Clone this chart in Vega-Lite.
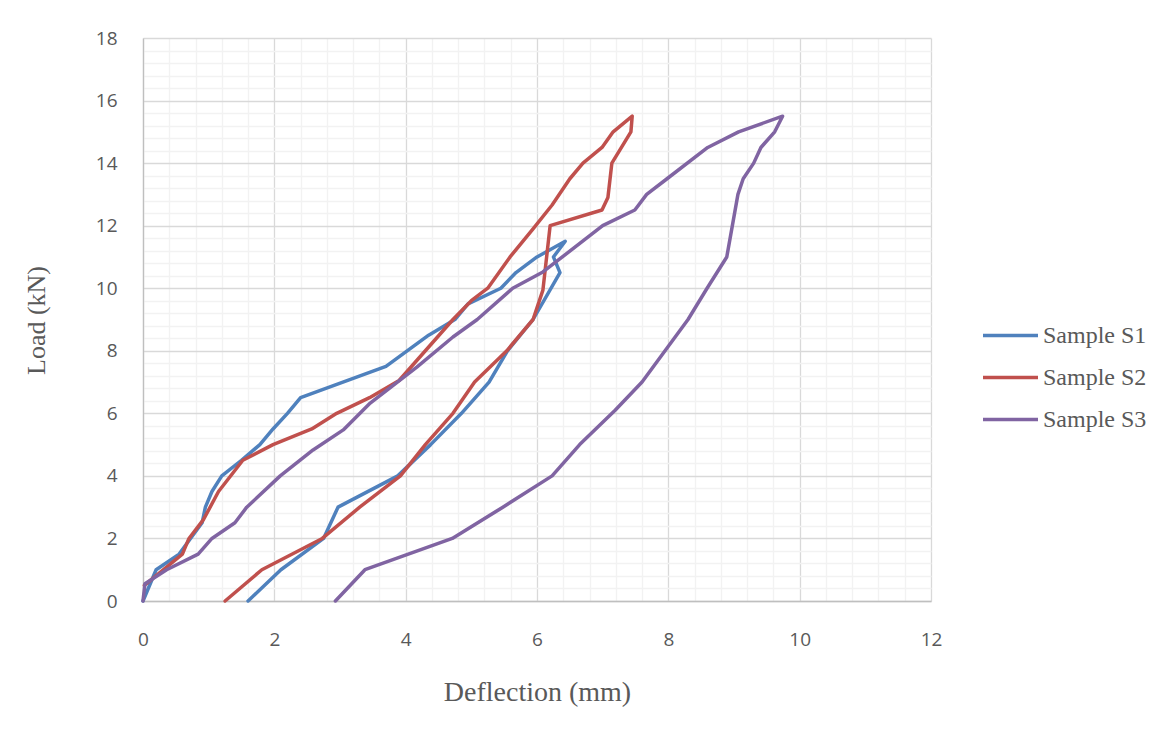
{
  "$schema": "https://vega.github.io/schema/vega-lite/v6.json",
  "autosize": {"type": "none"},
  "padding": {"left": 143, "top": 38, "right": 232, "bottom": 133},
  "width": 788,
  "height": 563,
  "background": "white",
  "config": {"view": {"stroke": null}},
  "data": {"values": [
    {"Sample":"Sample S1","i":0,"Deflection":0,"Load":0},
    {"Sample":"Sample S1","i":1,"Deflection":0.2,"Load":1},
    {"Sample":"Sample S1","i":2,"Deflection":0.55,"Load":1.5},
    {"Sample":"Sample S1","i":3,"Deflection":0.9,"Load":2.5},
    {"Sample":"Sample S1","i":4,"Deflection":0.95,"Load":3},
    {"Sample":"Sample S1","i":5,"Deflection":1.05,"Load":3.5},
    {"Sample":"Sample S1","i":6,"Deflection":1.2,"Load":4},
    {"Sample":"Sample S1","i":7,"Deflection":1.5,"Load":4.5},
    {"Sample":"Sample S1","i":8,"Deflection":1.78,"Load":5},
    {"Sample":"Sample S1","i":9,"Deflection":1.98,"Load":5.5},
    {"Sample":"Sample S1","i":10,"Deflection":2.2,"Load":6},
    {"Sample":"Sample S1","i":11,"Deflection":2.4,"Load":6.5},
    {"Sample":"Sample S1","i":12,"Deflection":3.7,"Load":7.5},
    {"Sample":"Sample S1","i":13,"Deflection":4.35,"Load":8.5},
    {"Sample":"Sample S1","i":14,"Deflection":4.75,"Load":9},
    {"Sample":"Sample S1","i":15,"Deflection":4.95,"Load":9.5},
    {"Sample":"Sample S1","i":16,"Deflection":5.45,"Load":10},
    {"Sample":"Sample S1","i":17,"Deflection":5.68,"Load":10.5},
    {"Sample":"Sample S1","i":18,"Deflection":6.0,"Load":11},
    {"Sample":"Sample S1","i":19,"Deflection":6.43,"Load":11.5},
    {"Sample":"Sample S1","i":20,"Deflection":6.25,"Load":11},
    {"Sample":"Sample S1","i":21,"Deflection":6.35,"Load":10.5},
    {"Sample":"Sample S1","i":22,"Deflection":5.94,"Load":9},
    {"Sample":"Sample S1","i":23,"Deflection":5.55,"Load":8},
    {"Sample":"Sample S1","i":24,"Deflection":5.27,"Load":7},
    {"Sample":"Sample S1","i":25,"Deflection":4.85,"Load":6},
    {"Sample":"Sample S1","i":26,"Deflection":4.38,"Load":5},
    {"Sample":"Sample S1","i":27,"Deflection":3.88,"Load":4},
    {"Sample":"Sample S1","i":28,"Deflection":2.97,"Load":3},
    {"Sample":"Sample S1","i":29,"Deflection":2.75,"Load":2},
    {"Sample":"Sample S1","i":30,"Deflection":2.1,"Load":1},
    {"Sample":"Sample S1","i":31,"Deflection":1.6,"Load":0},
    {"Sample":"Sample S2","i":0,"Deflection":0.02,"Load":0.5},
    {"Sample":"Sample S2","i":1,"Deflection":0.6,"Load":1.5},
    {"Sample":"Sample S2","i":2,"Deflection":0.7,"Load":2},
    {"Sample":"Sample S2","i":3,"Deflection":0.92,"Load":2.6},
    {"Sample":"Sample S2","i":4,"Deflection":1.15,"Load":3.5},
    {"Sample":"Sample S2","i":5,"Deflection":1.52,"Load":4.5},
    {"Sample":"Sample S2","i":6,"Deflection":1.98,"Load":5},
    {"Sample":"Sample S2","i":7,"Deflection":2.57,"Load":5.5},
    {"Sample":"Sample S2","i":8,"Deflection":2.95,"Load":6},
    {"Sample":"Sample S2","i":9,"Deflection":3.45,"Load":6.5},
    {"Sample":"Sample S2","i":10,"Deflection":3.9,"Load":7.05},
    {"Sample":"Sample S2","i":11,"Deflection":4.3,"Load":8},
    {"Sample":"Sample S2","i":12,"Deflection":4.72,"Load":9},
    {"Sample":"Sample S2","i":13,"Deflection":5.0,"Load":9.6},
    {"Sample":"Sample S2","i":14,"Deflection":5.25,"Load":10},
    {"Sample":"Sample S2","i":15,"Deflection":5.59,"Load":11},
    {"Sample":"Sample S2","i":16,"Deflection":5.94,"Load":11.9},
    {"Sample":"Sample S2","i":17,"Deflection":6.23,"Load":12.66},
    {"Sample":"Sample S2","i":18,"Deflection":6.5,"Load":13.5},
    {"Sample":"Sample S2","i":19,"Deflection":6.7,"Load":14},
    {"Sample":"Sample S2","i":20,"Deflection":6.99,"Load":14.5},
    {"Sample":"Sample S2","i":21,"Deflection":7.16,"Load":15},
    {"Sample":"Sample S2","i":22,"Deflection":7.45,"Load":15.5},
    {"Sample":"Sample S2","i":23,"Deflection":7.43,"Load":15},
    {"Sample":"Sample S2","i":24,"Deflection":7.14,"Load":14},
    {"Sample":"Sample S2","i":25,"Deflection":7.08,"Load":12.9},
    {"Sample":"Sample S2","i":26,"Deflection":6.99,"Load":12.5},
    {"Sample":"Sample S2","i":27,"Deflection":6.2,"Load":12},
    {"Sample":"Sample S2","i":28,"Deflection":6.09,"Load":9.94},
    {"Sample":"Sample S2","i":29,"Deflection":5.94,"Load":9},
    {"Sample":"Sample S2","i":30,"Deflection":5.54,"Load":8},
    {"Sample":"Sample S2","i":31,"Deflection":5.05,"Load":7},
    {"Sample":"Sample S2","i":32,"Deflection":4.72,"Load":6},
    {"Sample":"Sample S2","i":33,"Deflection":4.3,"Load":5},
    {"Sample":"Sample S2","i":34,"Deflection":3.92,"Load":4},
    {"Sample":"Sample S2","i":35,"Deflection":3.3,"Load":3},
    {"Sample":"Sample S2","i":36,"Deflection":2.73,"Load":2},
    {"Sample":"Sample S2","i":37,"Deflection":1.81,"Load":1},
    {"Sample":"Sample S2","i":38,"Deflection":1.25,"Load":0},
    {"Sample":"Sample S3","i":0,"Deflection":0,"Load":0},
    {"Sample":"Sample S3","i":1,"Deflection":0.03,"Load":0.55},
    {"Sample":"Sample S3","i":2,"Deflection":0.36,"Load":1},
    {"Sample":"Sample S3","i":3,"Deflection":0.84,"Load":1.5},
    {"Sample":"Sample S3","i":4,"Deflection":1.05,"Load":2},
    {"Sample":"Sample S3","i":5,"Deflection":1.4,"Load":2.5},
    {"Sample":"Sample S3","i":6,"Deflection":1.58,"Load":3},
    {"Sample":"Sample S3","i":7,"Deflection":2.09,"Load":4},
    {"Sample":"Sample S3","i":8,"Deflection":2.59,"Load":4.83},
    {"Sample":"Sample S3","i":9,"Deflection":3.05,"Load":5.47},
    {"Sample":"Sample S3","i":10,"Deflection":3.46,"Load":6.33},
    {"Sample":"Sample S3","i":11,"Deflection":4.17,"Load":7.48},
    {"Sample":"Sample S3","i":12,"Deflection":4.72,"Load":8.44},
    {"Sample":"Sample S3","i":13,"Deflection":5.09,"Load":9},
    {"Sample":"Sample S3","i":14,"Deflection":5.63,"Load":10},
    {"Sample":"Sample S3","i":15,"Deflection":6.09,"Load":10.52},
    {"Sample":"Sample S3","i":16,"Deflection":7.0,"Load":12},
    {"Sample":"Sample S3","i":17,"Deflection":7.49,"Load":12.5},
    {"Sample":"Sample S3","i":18,"Deflection":7.67,"Load":13},
    {"Sample":"Sample S3","i":19,"Deflection":7.98,"Load":13.5},
    {"Sample":"Sample S3","i":20,"Deflection":8.6,"Load":14.5},
    {"Sample":"Sample S3","i":21,"Deflection":9.07,"Load":15},
    {"Sample":"Sample S3","i":22,"Deflection":9.74,"Load":15.5},
    {"Sample":"Sample S3","i":23,"Deflection":9.62,"Load":15},
    {"Sample":"Sample S3","i":24,"Deflection":9.41,"Load":14.5},
    {"Sample":"Sample S3","i":25,"Deflection":9.3,"Load":14},
    {"Sample":"Sample S3","i":26,"Deflection":9.14,"Load":13.5},
    {"Sample":"Sample S3","i":27,"Deflection":9.06,"Load":13},
    {"Sample":"Sample S3","i":28,"Deflection":8.89,"Load":11},
    {"Sample":"Sample S3","i":29,"Deflection":8.59,"Load":10},
    {"Sample":"Sample S3","i":30,"Deflection":8.3,"Load":9},
    {"Sample":"Sample S3","i":31,"Deflection":7.95,"Load":8},
    {"Sample":"Sample S3","i":32,"Deflection":7.6,"Load":7},
    {"Sample":"Sample S3","i":33,"Deflection":7.19,"Load":6.1},
    {"Sample":"Sample S3","i":34,"Deflection":6.65,"Load":5},
    {"Sample":"Sample S3","i":35,"Deflection":6.23,"Load":4},
    {"Sample":"Sample S3","i":36,"Deflection":5.48,"Load":3},
    {"Sample":"Sample S3","i":37,"Deflection":4.71,"Load":2},
    {"Sample":"Sample S3","i":38,"Deflection":3.38,"Load":1},
    {"Sample":"Sample S3","i":39,"Deflection":2.93,"Load":0}
  ]},
  "resolve": {"axis": {"x": "independent", "y": "independent"}},
  "layer": [
    {
      "mark": {"type": "line", "opacity": 0},
      "encoding": {
        "x": {"field": "Deflection", "type": "quantitative",
              "scale": {"domain": [0, 12], "nice": false},
              "axis": {"orient": "bottom", "title": null, "labels": false, "ticks": false, "domain": false,
                       "grid": true, "gridColor": "#F2F2F2", "gridWidth": 1.3,
                       "values": [0.4,0.8,1.2,1.6,2.4,2.8,3.2,3.6,4.4,4.8,5.2,5.6,6.4,6.8,7.2,7.6,8.4,8.8,9.2,9.6,10.4,10.8,11.2,11.6]}},
        "y": {"field": "Load", "type": "quantitative",
              "scale": {"domain": [0, 18], "nice": false},
              "axis": {"orient": "left", "title": null, "labels": false, "ticks": false, "domain": false,
                       "grid": true, "gridColor": "#F2F2F2", "gridWidth": 1.3,
                       "values": [0.4,0.8,1.2,1.6,2.4,2.8,3.2,3.6,4.4,4.8,5.2,5.6,6.4,6.8,7.2,7.6,8.4,8.8,9.2,9.6,10.4,10.8,11.2,11.6,12.4,12.8,13.2,13.6,14.4,14.8,15.2,15.6,16.4,16.8,17.2,17.6]}},
        "detail": {"field": "Sample"},
        "order": {"field": "i", "type": "quantitative"}
      }
    },
    {
      "mark": {"type": "line", "strokeWidth": 3.5, "strokeJoin": "round", "strokeCap": "round"},
      "encoding": {
        "x": {"field": "Deflection", "type": "quantitative",
              "scale": {"domain": [0, 12], "nice": false},
              "axis": {"orient": "bottom", "title": "Deflection (mm)", "values": [0,2,4,6,8,10,12],
                       "grid": true, "gridColor": "#D9D9D9", "gridWidth": 1.3,
                       "ticks": false, "domain": true, "domainColor": "#BFBFBF", "domainWidth": 1.3,
                       "labelFont": "Open Sans", "labelFontSize": 19, "labelColor": "#595959", "labelPadding": 29,
                       "labelFlush": false,
                       "titleFont": "Liberation Serif", "titleFontSize": 28, "titleFontWeight": "normal", "titleColor": "#595959",
                       "titleX": 394, "titleY": 91, "titleBaseline": "middle"}},
        "y": {"field": "Load", "type": "quantitative",
              "scale": {"domain": [0, 18], "nice": false},
              "axis": {"orient": "left", "title": "Load (kN)", "values": [0,2,4,6,8,10,12,14,16,18],
                       "grid": true, "gridColor": "#D9D9D9", "gridWidth": 1.3,
                       "ticks": false, "domain": true, "domainColor": "#BFBFBF", "domainWidth": 1.3,
                       "labelFont": "Open Sans", "labelFontSize": 19, "labelColor": "#595959", "labelPadding": 26,
                       "labelFlush": false,
                       "titleFont": "Liberation Serif", "titleFontSize": 26, "titleFontWeight": "normal", "titleColor": "#595959",
                       "titleX": -107, "titleY": 282, "titleBaseline": "middle", "titleAngle": -90}},
        "color": {"field": "Sample", "type": "nominal",
                  "scale": {"domain": ["Sample S1", "Sample S2", "Sample S3"], "range": ["#4F81BD", "#C0504D", "#8064A2"]},
                  "legend": {"title": null, "orient": "none", "legendX": 838, "legendY": 268,
                             "symbolType": "stroke", "symbolSize": 3025, "symbolStrokeWidth": 3.5,
                             "labelFont": "Liberation Serif", "labelFontSize": 24, "labelColor": "#595959",
                             "labelOffset": 3, "rowPadding": -13}},
        "order": {"field": "i", "type": "quantitative"}
      }
    }
  ]
}
